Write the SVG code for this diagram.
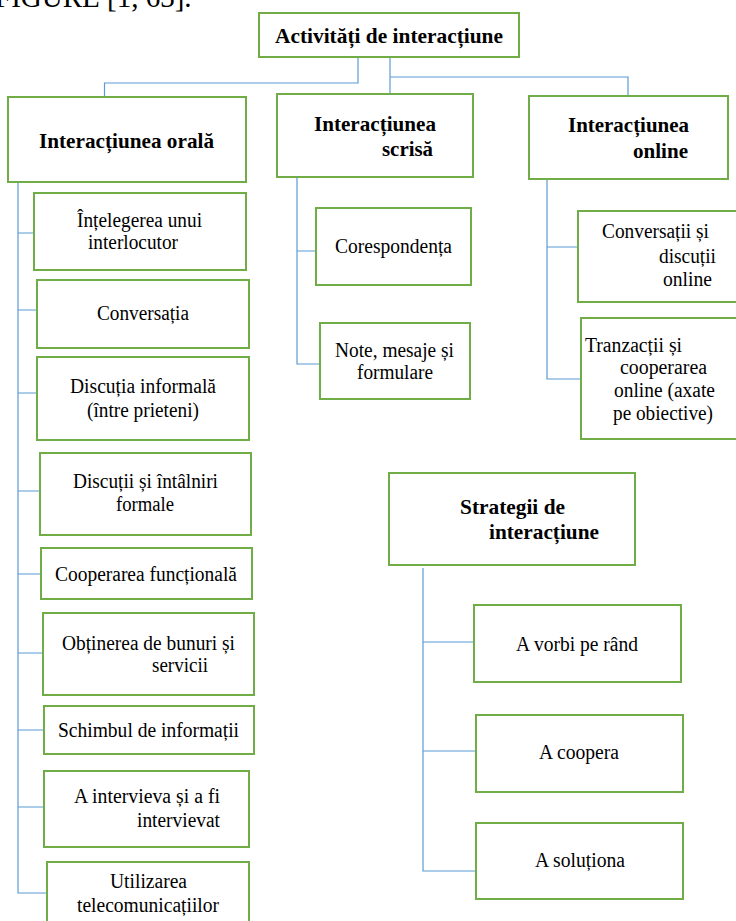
<svg xmlns="http://www.w3.org/2000/svg" width="736" height="921" viewBox="0 0 736 921">
<style>
.box{fill:#fff;stroke:#70AD47;stroke-width:2}
.c{fill:none;stroke:#5B9BD5;stroke-width:1.2}
text{font-family:"Liberation Serif","Times New Roman",serif;fill:#000}
.b{font-size:22px;font-weight:bold}
.r{font-size:20.5px}
</style>
<rect width="736" height="921" fill="#fff"/>
<text class="r" x="-5" y="7" style="font-size:29px">FIGURE [1, 63].</text>
<g id="connectors">
<path class="c" d="M358 57V83H104.5V97"/>
<path class="c" d="M390 57V94"/>
<path class="c" d="M390 77H628V96"/>
<path class="c" d="M18 182V893H47"/>
<path class="c" d="M18 233H34M18 310H37M18 393H37M18 491H40M18 574H41M18 653H43M18 730H44M18 807H44"/>
<path class="c" d="M297 177V364H320M297 251H316"/>
<path class="c" d="M547 179V379H581M547 247H578"/>
<path class="c" d="M423 568V871H476M423 642H474M423 751H476"/>
</g>
<g id="n-activitati"><rect class="box" x="259" y="13" width="260" height="44"/><text class="b" x="275" y="43" textLength="228" lengthAdjust="spacingAndGlyphs">Activități de interacțiune</text></g>
<g id="n-orala"><rect class="box" x="8" y="97" width="238" height="85"/><text class="b" x="39" y="148" textLength="175" lengthAdjust="spacingAndGlyphs">Interacțiunea orală</text></g>
<g id="n-scrisa"><rect class="box" x="277" y="94" width="196" height="83"/><text class="b" x="314" y="131" textLength="122" lengthAdjust="spacingAndGlyphs">Interacțiunea</text><text class="b" x="382" y="156" textLength="51" lengthAdjust="spacingAndGlyphs">scrisă</text></g>
<g id="n-online"><rect class="box" x="529" y="96" width="199" height="83"/><text class="b" x="568" y="132" textLength="121" lengthAdjust="spacingAndGlyphs">Interacțiunea</text><text class="b" x="633" y="158" textLength="55" lengthAdjust="spacingAndGlyphs">online</text></g>
<g id="n-intelegerea"><rect class="box" x="34" y="193" width="212" height="77"/><text class="r" x="77" y="227" textLength="125" lengthAdjust="spacingAndGlyphs">Înțelegerea unui</text><text class="r" x="88" y="249" textLength="90" lengthAdjust="spacingAndGlyphs">interlocutor</text></g>
<g id="n-conversatia"><rect class="box" x="37" y="280" width="212" height="68"/><text class="r" x="97" y="320" textLength="92" lengthAdjust="spacingAndGlyphs">Conversația</text></g>
<g id="n-discutia"><rect class="box" x="37" y="357" width="212" height="83"/><text class="r" x="70" y="393" textLength="146" lengthAdjust="spacingAndGlyphs">Discuția informală</text><text class="r" x="87" y="417" textLength="112" lengthAdjust="spacingAndGlyphs">(între prieteni)</text></g>
<g id="n-discutii"><rect class="box" x="40" y="453" width="211" height="82"/><text class="r" x="73" y="488" textLength="145" lengthAdjust="spacingAndGlyphs">Discuții și întâlniri</text><text class="r" x="116" y="511" textLength="58" lengthAdjust="spacingAndGlyphs">formale</text></g>
<g id="n-cooperarea"><rect class="box" x="41" y="548" width="211" height="51"/><text class="r" x="55" y="581" textLength="182" lengthAdjust="spacingAndGlyphs">Cooperarea funcțională</text></g>
<g id="n-obtinerea"><rect class="box" x="43" y="613" width="211" height="82"/><text class="r" x="62" y="650" textLength="173" lengthAdjust="spacingAndGlyphs">Obținerea de bunuri și</text><text class="r" x="152" y="672" textLength="56" lengthAdjust="spacingAndGlyphs">servicii</text></g>
<g id="n-schimbul"><rect class="box" x="44" y="706" width="210" height="48"/><text class="r" x="58" y="737" textLength="181" lengthAdjust="spacingAndGlyphs">Schimbul de informații</text></g>
<g id="n-intervieva"><rect class="box" x="44" y="771" width="205" height="76"/><text class="r" x="74" y="803" textLength="146" lengthAdjust="spacingAndGlyphs">A intervieva și a fi</text><text class="r" x="137" y="827" textLength="83" lengthAdjust="spacingAndGlyphs">intervievat</text></g>
<g id="n-utilizarea"><rect class="box" x="47" y="862" width="202" height="70"/><text class="r" x="110" y="888" textLength="77" lengthAdjust="spacingAndGlyphs">Utilizarea</text><text class="r" x="77" y="912" textLength="142" lengthAdjust="spacingAndGlyphs">telecomunicațiilor</text></g>
<g id="n-corespondenta"><rect class="box" x="316" y="208" width="155" height="77"/><text class="r" x="335" y="253" textLength="117" lengthAdjust="spacingAndGlyphs">Corespondența</text></g>
<g id="n-note"><rect class="box" x="320" y="323" width="150" height="76"/><text class="r" x="335" y="357" textLength="119" lengthAdjust="spacingAndGlyphs">Note, mesaje și</text><text class="r" x="357" y="379" textLength="76" lengthAdjust="spacingAndGlyphs">formulare</text></g>
<g id="n-conversatii"><rect class="box" x="578" y="211" width="162" height="91"/><text class="r" x="602" y="238" textLength="107" lengthAdjust="spacingAndGlyphs">Conversații și</text><text class="r" x="659" y="263" textLength="57" lengthAdjust="spacingAndGlyphs">discuții</text><text class="r" x="663" y="286" textLength="49" lengthAdjust="spacingAndGlyphs">online</text></g>
<g id="n-tranzactii"><rect class="box" x="581" y="318" width="159" height="121"/><text class="r" x="585" y="352" textLength="97" lengthAdjust="spacingAndGlyphs">Tranzacții și</text><text class="r" x="620" y="374" textLength="87" lengthAdjust="spacingAndGlyphs">cooperarea</text><text class="r" x="614" y="397" textLength="101" lengthAdjust="spacingAndGlyphs">online (axate</text><text class="r" x="613" y="420" textLength="100" lengthAdjust="spacingAndGlyphs">pe obiective)</text></g>
<g id="n-strategii"><rect class="box" x="389" y="473" width="246" height="92"/><text class="b" x="460" y="514" textLength="105" lengthAdjust="spacingAndGlyphs">Strategii de</text><text class="b" x="489" y="539" textLength="110" lengthAdjust="spacingAndGlyphs">interacțiune</text></g>
<g id="n-vorbi"><rect class="box" x="474" y="605" width="207" height="77"/><text class="r" x="516" y="651" textLength="122" lengthAdjust="spacingAndGlyphs">A vorbi pe rând</text></g>
<g id="n-coopera"><rect class="box" x="476" y="715" width="207" height="77"/><text class="r" x="539" y="759" textLength="80" lengthAdjust="spacingAndGlyphs">A coopera</text></g>
<g id="n-solutiona"><rect class="box" x="476" y="823" width="207" height="76"/><text class="r" x="535" y="867" textLength="90" lengthAdjust="spacingAndGlyphs">A soluționa</text></g>
</svg>
